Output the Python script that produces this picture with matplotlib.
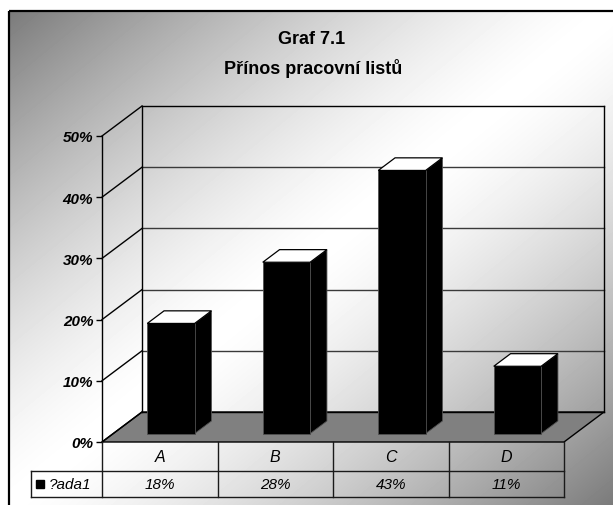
import matplotlib
matplotlib.use('Agg')
import matplotlib.pyplot as plt
import numpy as np
from matplotlib.patches import Polygon, Rectangle

plt.rcParams['font.family'] = ['Liberation Sans', 'DejaVu Sans']

# ---- data ----
categories = ['A', 'B', 'C', 'D']
values = [18, 28, 43, 11]
value_labels = ['18%', '28%', '43%', '11%']
series_name = '?ada1'
yticks = [0, 10, 20, 30, 40, 50]
ytick_labels = ['0%', '10%', '20%', '30%', '40%', '50%']
title_lines = ['Graf 7.1', 'Přínos pracovní listů']

W, H = 613, 506
fig = plt.figure(figsize=(W / 100, H / 100), dpi=100)
fig.patch.set_facecolor('white')

# ---- background with diagonal gradient ----
bg = fig.add_axes([0, 0, 1, 1])
bg.set_xlim(0, W)
bg.set_ylim(H, 0)
bg.axis('off')
FX0, FY0 = 9, 12
xs = np.arange(FX0, W) + 0.5
ys = np.arange(FY0, H) + 0.5
X, Y = np.meshgrid(xs, ys)
s = (X - FX0) / (W - FX0) + (Y - FY0) / (H - FY0)
img = 1 - 0.52 * np.abs(1 - s) ** 1.4
bg.imshow(np.clip(img, 0, 1), cmap='gray', vmin=0, vmax=1,
          extent=(FX0, W, H, FY0), aspect='auto', interpolation='bilinear')
bg.add_patch(Rectangle((FX0, FY0), 800, 700, fill=False, ec='black', lw=1.6))

# ---- title ----
fig.text(312 / W, 1 - 40 / H, title_lines[0], ha='center', va='center',
         fontsize=13, fontweight='bold')
fig.text(313 / W, 1 - 68 / H, title_lines[1], ha='center', va='center',
         fontsize=13, fontweight='bold')

# ---- main axes ----
AX_L, AX_B0, AX_W, AX_H = 102, 443, 462, 306
ax = fig.add_axes([AX_L / W, (H - AX_B0) / H, AX_W / W, AX_H / H])
ax.patch.set_visible(False)
ax.set_xlim(-0.5, len(categories) - 0.5)
ax.set_ylim(0, 50)
for sp in ['top', 'right', 'bottom']:
    ax.spines[sp].set_visible(False)
ax.spines['left'].set_color('black')
ax.spines['left'].set_linewidth(1.0)
ax.set_xticks([])
ax.set_yticks(yticks)
ax.set_yticklabels(ytick_labels, fontsize=11, fontweight='bold', fontstyle='italic')
ax.tick_params(axis='y', length=4.3, width=1, pad=2, color='black')

xpx = AX_W / len(categories)
ypx = AX_H / 50.0
DX = 40 / xpx
DY = 30 / ypx
x_lo, x_hi = -0.5, len(categories) - 0.5


def P(x, y, z):
    return (x + z * DX, y + z * DY)


line_kw = dict(color='black', lw=1.0, clip_on=False)

# floor
ax.add_patch(Polygon([P(x_lo, 0, 0), P(x_hi, 0, 0), P(x_hi, 0, 1), P(x_lo, 0, 1)],
                     closed=True, fc='#808080', ec='black', lw=1.0, clip_on=False, zorder=1))

# back wall gridlines and outline
for t in yticks:
    col = 'black' if t in (0, 50) else '#3a3a3a'
    ax.plot([P(x_lo, t, 1)[0], P(x_hi, t, 1)[0]], [P(x_lo, t, 1)[1]] * 2,
            color=col, lw=1.0, clip_on=False, zorder=1.5)
ax.plot([P(x_lo, 0, 1)[0]] * 2, [P(x_lo, 0, 1)[1], P(x_lo, 50, 1)[1]], zorder=1.5, **line_kw)
ax.plot([P(x_hi, 0, 1)[0]] * 2, [P(x_hi, 0, 1)[1], P(x_hi, 50, 1)[1]], zorder=1.5, **line_kw)
# left wall diagonals
for t in yticks:
    a, b = P(x_lo, t, 0), P(x_lo, t, 1)
    ax.plot([a[0], b[0]], [a[1], b[1]], zorder=1.5, **line_kw)

# ---- bars ----
BW = 0.41
Z0, Z1 = 0.28, 0.70
xc = np.arange(len(categories))
ax.bar(xc + Z0 * DX, values, width=BW, bottom=Z0 * DY, color='black',
       edgecolor='#505050', lw=0.6, clip_on=False, zorder=3)
for i, v in zip(xc, values):
    xl, xr = i - BW / 2, i + BW / 2
    ax.add_patch(Polygon([P(xl, v, Z0), P(xr, v, Z0), P(xr, v, Z1), P(xl, v, Z1)],
                         closed=True, fc='white', ec='black', lw=0.9, clip_on=False, zorder=3))
    ax.add_patch(Polygon([P(xr, 0, Z0), P(xr, v, Z0), P(xr, v, Z1), P(xr, 0, Z1)],
                         closed=True, fc='black', ec='#505050', lw=0.6, clip_on=False, zorder=2.9))

# ---- data table ----
r1 = -28.5 / ypx
r2 = -55.0 / ypx
leg_x = x_lo - (AX_L - 30.5) / xpx
tkw = dict(color='#1a1a1a', lw=1.0, clip_on=False, zorder=4)
ax.plot([x_lo, x_lo], [0, r2], **tkw)
for k in range(1, len(categories) + 1):
    ax.plot([x_lo + k, x_lo + k], [0, r2], **tkw)
ax.plot([leg_x, x_hi], [r1, r1], **tkw)
ax.plot([leg_x, x_hi], [r2, r2], **tkw)
ax.plot([leg_x, leg_x], [r1, r2], **tkw)
for i, (cat, lab) in enumerate(zip(categories, value_labels)):
    ax.text(i, r1 / 2, cat, ha='center', va='center', fontsize=11.5,
            fontstyle='italic', clip_on=False)
    ax.text(i, (r1 + r2) / 2, lab, ha='center', va='center', fontsize=11,
            fontstyle='italic', clip_on=False)
ax.plot([x_lo - (AX_L - 39.5) / xpx], [(r1 + r2) / 2], marker='s', ms=5.5,
        color='black', clip_on=False, zorder=5)
ax.text(x_lo - (AX_L - 48.5) / xpx, (r1 + r2) / 2, series_name, ha='left', va='center',
        fontsize=11, fontstyle='italic', clip_on=False)

fig.savefig('out.png', dpi=100)
